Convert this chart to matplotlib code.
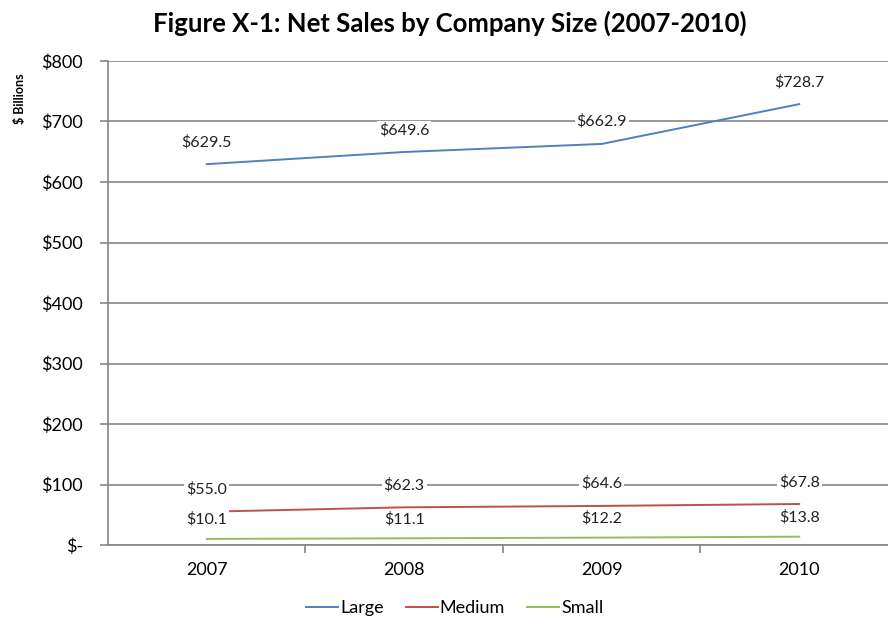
import matplotlib
matplotlib.use("Agg")
import matplotlib.pyplot as plt
from matplotlib.ticker import FixedLocator

plt.rcParams['font.family'] = ['Lato', 'DejaVu Sans']

years = ["2007", "2008", "2009", "2010"]
large = [629.5, 649.6, 662.9, 728.7]
medium = [55.0, 62.3, 64.6, 67.8]
small = [10.1, 11.1, 12.2, 13.8]
yticks = [0, 100, 200, 300, 400, 500, 600, 700, 800]
ytick_labels = ["$-", "$100", "$200", "$300", "$400", "$500", "$600", "$700", "$800"]

colors = {"Large": "#4F81BD", "Medium": "#C0504D", "Small": "#9BBB59"}
grid_col = "#868686"

fig = plt.figure(figsize=(8.88, 6.18), dpi=100)
ax = fig.add_axes([0.1216, 0.1181, 0.8896, 0.7832])

x = list(range(len(years)))
series = [("Large", large, 16), ("Medium", medium, 16), ("Small", small, 14)]
for name, vals, off in series:
    ax.plot(x, vals, color=colors[name], lw=1.4, label=name, zorder=3)
    for xi, v in zip(x, vals):
        ax.annotate(f"${v:.1f}", (xi, v), xytext=(0, off), textcoords="offset points",
                    ha="center", va="center", fontsize=11.5, color="#222222",
                    bbox=dict(boxstyle="square,pad=0.12", fc="white", ec="none"), zorder=4)

ax.set_xlim(-0.5, len(years) - 0.5)
ax.set_ylim(0, 800)
ax.set_yticks(yticks)
ax.set_yticklabels(ytick_labels, fontsize=13)
ax.yaxis.grid(True, color=grid_col, lw=1.2, zorder=1)
ax.set_axisbelow(True)

ax.set_xticks(x)
ax.set_xticklabels(years, fontsize=13)
ax.tick_params(axis="x", which="major", length=0, pad=12)
ax.xaxis.set_minor_locator(FixedLocator([0.5, 1.5, 2.5, 3.5]))
ax.tick_params(axis="x", which="minor", length=6, color=grid_col, width=1.2)
ax.tick_params(axis="y", length=6, color=grid_col, width=1.2, pad=12)

for s in ["top", "right"]:
    ax.spines[s].set_visible(False)
for s in ["left", "bottom"]:
    ax.spines[s].set_color(grid_col)
    ax.spines[s].set_linewidth(1.2)

fig.text(0.507, 0.962, "Figure X-1: Net Sales by Company Size (2007-2010)",
         ha="center", va="center", fontsize=18.5, fontweight="bold")
fig.text(0.022, 0.84, "$ Billions", rotation=90, ha="center", va="center",
         fontsize=9, fontweight="bold")

fig.legend(loc="center", bbox_to_anchor=(0.512, 0.016), ncol=3, frameon=False,
           fontsize=13, handlelength=1.8, handletextpad=0.1, columnspacing=1.2)

fig.savefig("out.png", dpi=100)
